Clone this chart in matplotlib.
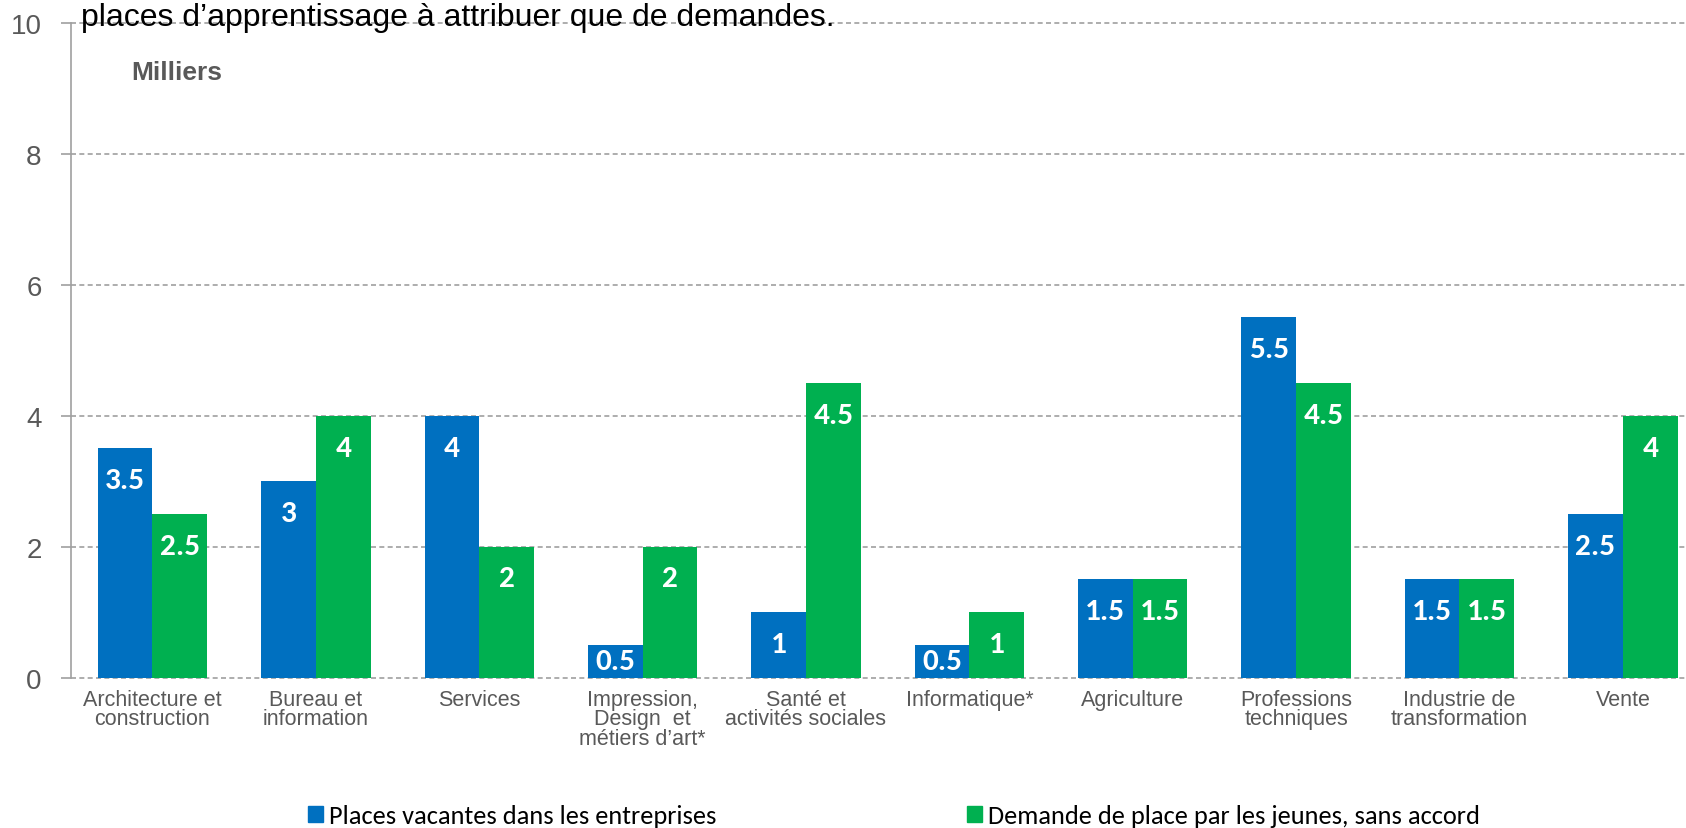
import matplotlib
matplotlib.use("Agg")
import matplotlib.pyplot as plt
import numpy as np
from matplotlib.patches import Patch

categories = ["Architecture et\nconstruction", "Bureau et\ninformation", "Services",
              "Impression,\nDesign  et\nmétiers d’art*", "Santé et\nactivités sociales",
              "Informatique*", "Agriculture", "Professions\ntechniques",
              "Industrie de\ntransformation", "Vente"]
places_vacantes = [3.5, 3, 4, 0.5, 1, 0.5, 1.5, 5.5, 1.5, 2.5]
demandes = [2.5, 4, 2, 2, 4.5, 1, 1.5, 4.5, 1.5, 4]
series_names = ["Places vacantes dans les entreprises",
                "Demande de place par les jeunes, sans accord"]
yticks = [0, 2, 4, 6, 8, 10]

BLUE = "#0070C0"
GREEN = "#00B050"
GRAY = "#595959"

fig = plt.figure(figsize=(16.86, 8.29), dpi=100)
ax = fig.add_axes([0.042, 0.1815, 0.969, 0.79])
ax.set_xlim(-0.5, 9.5)
ax.set_ylim(0, 10)

x = np.arange(len(categories))
w = 0.335
b1 = ax.bar(x - w / 2, places_vacantes, w, color=BLUE, zorder=3)
b2 = ax.bar(x + w / 2, demandes, w, color=GREEN, zorder=3)

ax.set_yticks(yticks)
ax.yaxis.grid(True, linestyle=(0, (3, 2)), color="#A0A0A0", linewidth=1.2, zorder=0)
for gl in ax.get_ygridlines():
    gl.set_clip_on(False)
ax.set_axisbelow(True)
for s in ["top", "right", "bottom"]:
    ax.spines[s].set_visible(False)
ax.spines["left"].set_color("#A0A0A0")
ax.spines["left"].set_linewidth(1.2)
ax.tick_params(axis="y", colors="#A0A0A0", labelcolor=GRAY, length=7, width=1.2,
               labelsize=20, pad=14)
for lab in ax.get_yticklabels():
    lab.set_fontfamily("Liberation Sans")
ax.tick_params(axis="x", length=0, pad=8)
ax.set_xticks(x)
ax.set_xticklabels(categories, fontfamily="Liberation Sans", fontsize=15.5, color=GRAY,
                   linespacing=0.91, va="top")

pts_per_unit = 0.79 * 8.29 * 72 / 10
for bars, vals in ((b1, places_vacantes), (b2, demandes)):
    for rect, v in zip(bars, vals):
        off = min(23, v * pts_per_unit / 2)
        ax.annotate(f"{v:g}", (rect.get_x() + rect.get_width() / 2, v),
                    xytext=(0, -off), textcoords="offset points",
                    ha="center", va="center", color="white", fontweight="bold",
                    fontsize=22.5, fontfamily="Carlito", zorder=4)

fig.text(0.0478, 0.969, "places d’apprentissage à attribuer que de demandes.",
         fontfamily="Liberation Sans", fontsize=23, color="black", va="baseline")
fig.text(0.078, 0.912, "Milliers", fontfamily="Liberation Sans", fontsize=19,
         fontweight="bold", color=GRAY, va="center")

handles = [Patch(color=BLUE), Patch(color=GREEN)]
fig.legend(handles, series_names, loc="center left", bbox_to_anchor=(308 / 1686, 0.0145),
           ncol=2, frameon=False, columnspacing=9.5, handlelength=0.55, handleheight=0.55,
           handletextpad=0.25, borderpad=0, borderaxespad=0,
           prop={"family": "Carlito", "size": 19})

fig.savefig("out.png", dpi=100)
